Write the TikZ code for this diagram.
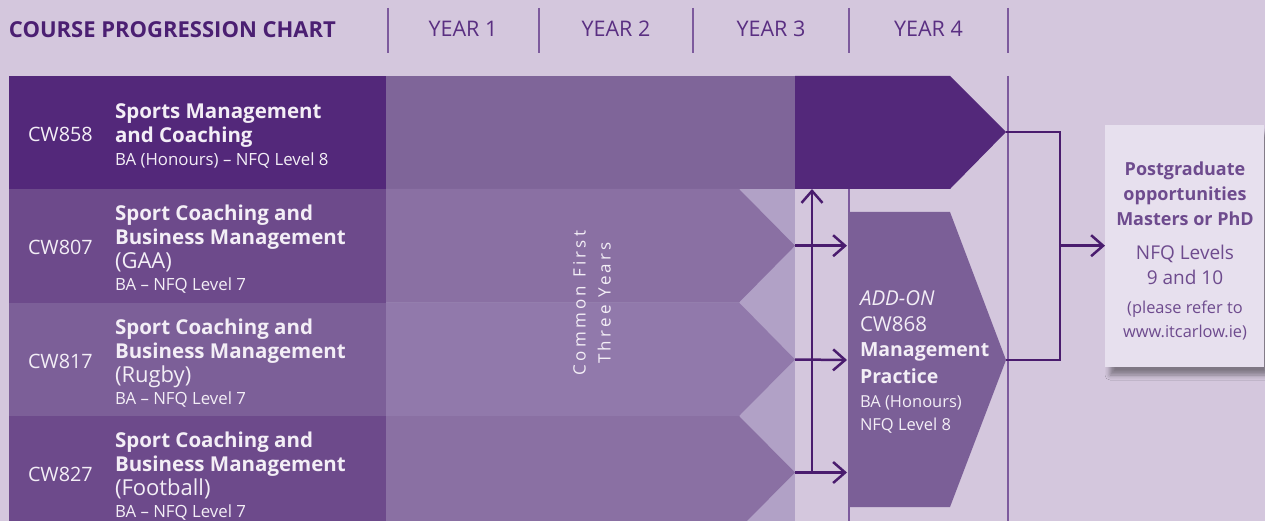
\documentclass[tikz,border=0pt]{standalone}
\usepackage{fontspec}
\setmainfont{Open Sans}
\usetikzlibrary{arrows.meta,shadows.blur}
\definecolor{bg}{HTML}{D4C7DD}
\definecolor{dark}{HTML}{53287A}
\definecolor{rowA}{HTML}{6D4A8B}
\definecolor{rowB}{HTML}{7C5F98}
\definecolor{midOne}{HTML}{7F6599}
\definecolor{strip}{HTML}{B1A1C6}
\definecolor{arrA}{HTML}{8A70A3}
\definecolor{arrB}{HTML}{9179AB}
\definecolor{addon}{HTML}{7B5F97}
\definecolor{pgfill}{HTML}{E7E0EE}
\definecolor{pgtext}{HTML}{6E4B8E}
\definecolor{conline}{HTML}{4A1C6E}
\definecolor{thin}{HTML}{7D5A9D}
\definecolor{hdr}{HTML}{4B1F72}
\definecolor{yr}{HTML}{5A2F82}
\definecolor{wtext}{HTML}{F3EEF6}
\tikzset{
  conn/.style={draw=conline, line width=2.5pt, line join=miter,
    -{Straight Barb[length=12pt,width=21pt]}},
  bracket/.style={draw=conline, line width=2.5pt, line join=miter},
  sep/.style={draw=thin, line width=2pt},
  bodysep/.style={draw=thin, line width=1.3pt},
  yearlbl/.style={text=yr, font=\fontsize{21.5}{24}\selectfont},
  codelbl/.style={text=wtext, anchor=west, font=\fontsize{19.8}{22}\selectfont},
  rowtxt/.style={text=wtext, anchor=west, align=left, font=\fontsize{22}{24}\selectfont},
}
\newcommand{\bigb}{\fontsize{20.5}{24}\selectfont\bfseries}
\newcommand{\smallline}{\fontsize{16.8}{19}\selectfont}
\begin{document}
\begin{tikzpicture}[x=1pt,y=-1pt, every node/.style={inner sep=0pt, outer sep=0pt}]
\useasboundingbox (0,0) rectangle (1265,521);
\clip (0,0) rectangle (1265,521);
\fill[bg] (0,0) rectangle (1265,521);

% header
\node[anchor=west, text=hdr, font=\bfseries\fontsize{22}{24}\selectfont] (title) at (9,30) {COURSE PROGRESSION CHART};
\foreach \x/\n in {387.5/s0,539/s1,693/s2,849/s3,1008/s4}{
  \coordinate (\n t) at (\x,8);
  \coordinate (\n b) at (\x,53);
  \draw[sep] (\n t) -- (\n b);
}
\node[yearlbl] (y1) at (463,29) {YEAR 1};
\node[yearlbl] (y2) at (616,29) {YEAR 2};
\node[yearlbl] (y3) at (771,29) {YEAR 3};
\node[yearlbl] (y4) at (928.5,29) {YEAR 4};

% body separator lines
\draw[bodysep] (849,76) -- (849,521);
\draw[bodysep] (1008,76) -- (1008,521);

% left blocks
\fill[dark] (9,76) rectangle (386,189);
\fill[rowA] (9,189) rectangle (386,302.5);
\fill[rowB] (9,302.5) rectangle (386,416);
\fill[rowA] (9,416) rectangle (386,529);

% middle
\fill[midOne] (386,76) rectangle (795,189);
\fill[strip] (386,189) rectangle (795,521);
\fill[arrA] (386,189) -- (739,189) -- (795,245.7) -- (739,302.5) -- (386,302.5) -- cycle;
\fill[arrB] (386,302.5) -- (739,302.5) -- (795,359.5) -- (739,416) -- (386,416) -- cycle;
\fill[arrA] (386,416) -- (739,416) -- (795,472.5) -- (739,529) -- (386,529) -- cycle;

% row 1 year 4 arrow
\fill[dark] (795,76) -- (950,76) -- (1006,132) -- (950,189) -- (795,189) -- cycle;

% add-on box
\fill[addon] (848,212) -- (950,212) -- (1006,360) -- (950,507) -- (848,507) -- cycle;

% named coordinates
\coordinate (r1tip) at (1006,132);
\coordinate (r1bot) at (812,189);
\coordinate (r2tip) at (795,245.7);
\coordinate (r3tip) at (795,359.5);
\coordinate (r4tip) at (795,472.5);
\coordinate (addL) at (847,360);
\coordinate (addtip) at (1006,360);
\coordinate (vbase) at (812,472.5);
\coordinate (brk) at (1060,245.7);

% row texts
\node[codelbl] (c1) at (28,134) {CW858};
\node[rowtxt] (t1) at (115,136) {{\bigb Sports Management}\\{\bigb and Coaching}\\[-1.5pt]{\smallline BA (Honours) – NFQ Level 8}};
\node[codelbl] (c2) at (28,247) {CW807};
\node[rowtxt] (t2) at (115,249) {{\bigb Sport Coaching and}\\{\bigb Business Management}\\(GAA)\\[-1.5pt]{\smallline BA – NFQ Level 7}};
\node[codelbl] (c3) at (28,361) {CW817};
\node[rowtxt] (t3) at (115,363) {{\bigb Sport Coaching and}\\{\bigb Business Management}\\(Rugby)\\[-1.5pt]{\smallline BA – NFQ Level 7}};
\node[codelbl] (c4) at (28,474) {CW827};
\node[rowtxt] (t4) at (115,476) {{\bigb Sport Coaching and}\\{\bigb Business Management}\\(Football)\\[-1.5pt]{\smallline BA – NFQ Level 7}};

% common first three years
\node[text=wtext, rotate=90, align=center, font=\fontsize{17}{25}\selectfont\addfontfeatures{LetterSpace=19}] (common) at (592,303) {Common First\\Three Years};

% add-on text
\node[anchor=north west, text=wtext, align=left, font=\fontsize{20.5}{24.5}\selectfont] (addtxt) at (860,291)
  {\textit{ADD-ON}\\[1pt]CW868\\[0.5pt]{\fontsize{19.5}{26}\selectfont\bfseries Management}\\[2.5pt]{\fontsize{19.5}{25}\selectfont\bfseries Practice}\\[-0.5pt]{\fontsize{16.5}{23}\selectfont BA (Honours)}\\[-1.5pt]{\fontsize{16.5}{23}\selectfont NFQ Level 8}};

% postgraduate box
\node[anchor=north west, fill=pgfill, minimum width=159pt, minimum height=242pt,
  blur shadow={shadow xshift=5pt, shadow yshift=-8pt, shadow blur radius=5pt, shadow opacity=40}] (pg) at (1105,125) {};
\node[text=pgtext, align=center, font=\fontsize{18}{25}\selectfont] (pgtxt) at (1185,251)
  {\textbf{Postgraduate}\\\textbf{opportunities}\\\textbf{Masters or PhD}\\[9pt]{\fontsize{19}{25}\selectfont NFQ Levels}\\{\fontsize{19}{25}\selectfont 9 and 10}\\[4pt]{\fontsize{16.4}{23}\selectfont (please refer to}\\[-1pt]{\fontsize{16.4}{23}\selectfont www.itcarlow.ie)}};

% connectors
\draw[conn] (vbase) -- (r1bot);
\draw[conn] (r2tip) -- (r2tip -| addL);
\draw[conn] (r3tip) -- (addL);
\draw[conn] (r4tip) -- (r4tip -| addL);
\draw[bracket] (r1tip) -- (r1tip -| brk) -- (addtip -| brk) -- (addtip);
\draw[conn] (brk) -- (brk -| pg.west);
\end{tikzpicture}
\end{document}
